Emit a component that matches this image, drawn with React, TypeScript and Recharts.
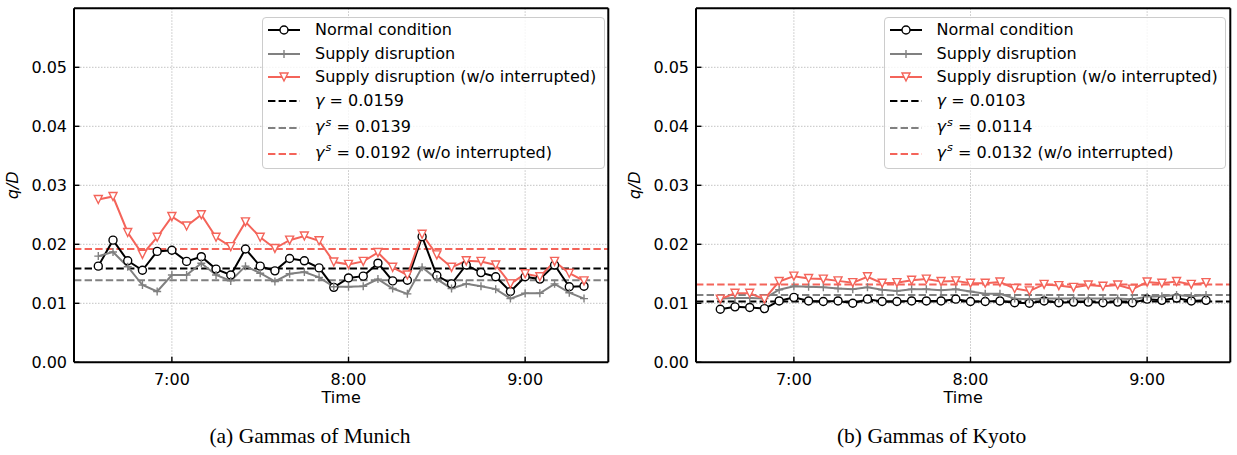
import { LineChart, Line, XAxis, YAxis, CartesianGrid, ReferenceLine } from 'recharts';

// sample times (5 min steps)
const times = [
  '6:35', '6:40', '6:45', '6:50', '6:55', '7:00', '7:05', '7:10', '7:15', '7:20', '7:25', '7:30',
  '7:35', '7:40', '7:45', '7:50', '7:55', '8:00', '8:05', '8:10', '8:15', '8:20', '8:25', '8:30',
  '8:35', '8:40', '8:45', '8:50', '8:55', '9:00', '9:05', '9:10', '9:15', '9:20',
];

const xTickLabels = ['7:00', '8:00', '9:00'];
const yTicks = [0, 0.01, 0.02, 0.03, 0.04, 0.05];

const munichNormal = [
  0.0163, 0.0207, 0.0172, 0.0156, 0.0188, 0.019, 0.0171, 0.0179, 0.0158, 0.0148, 0.0192, 0.0163,
  0.0155, 0.0176, 0.0172, 0.016, 0.0127, 0.0143, 0.0146, 0.0168, 0.0138, 0.0139, 0.0213, 0.0147,
  0.0133, 0.0165, 0.0152, 0.0145, 0.012, 0.0145, 0.0141, 0.0165, 0.0128, 0.0129,
];
const munichSupply = [
  0.018, 0.0187, 0.0162, 0.0131, 0.012, 0.0148, 0.0148, 0.0168, 0.0148, 0.0138, 0.0163, 0.0151,
  0.0137, 0.015, 0.0153, 0.0144, 0.0128, 0.0128, 0.0129, 0.0141, 0.0125, 0.0116, 0.0161, 0.0141,
  0.0125, 0.0133, 0.0129, 0.0124, 0.0108, 0.0117, 0.0117, 0.0133, 0.0118, 0.0108,
];
const munichSupplyNoInt = [
  0.0276, 0.0281, 0.022, 0.0183, 0.0212, 0.0247, 0.0231, 0.025, 0.0212, 0.0196, 0.0238, 0.0212,
  0.0193, 0.0207, 0.0214, 0.0206, 0.017, 0.0166, 0.0171, 0.0186, 0.0161, 0.0148, 0.0217, 0.0182,
  0.0161, 0.0172, 0.0171, 0.0165, 0.0133, 0.015, 0.0145, 0.0171, 0.0151, 0.0138,
];

const kyotoNormal = [
  0.009, 0.0094, 0.0093, 0.0091, 0.0104, 0.011, 0.0104, 0.0103, 0.0104, 0.01, 0.0107, 0.0103,
  0.0103, 0.0104, 0.0104, 0.0104, 0.0107, 0.0103, 0.0103, 0.0104, 0.0101, 0.01, 0.0104, 0.0101,
  0.0102, 0.0102, 0.0101, 0.0102, 0.0101, 0.0107, 0.0105, 0.0109, 0.0104, 0.0105,
];
const kyotoSupply = [
  0.0108, 0.0109, 0.0109, 0.0108, 0.0123, 0.0129, 0.0128, 0.0127, 0.0125, 0.0124, 0.0127, 0.0123,
  0.0121, 0.0124, 0.0124, 0.0122, 0.0124, 0.012, 0.0116, 0.0116, 0.0108, 0.0107, 0.0108, 0.0108,
  0.0108, 0.0108, 0.0108, 0.0108, 0.0107, 0.0111, 0.0112, 0.0114, 0.0112, 0.0114,
];
const kyotoSupplyNoInt = [
  0.0107, 0.0117, 0.0117, 0.0107, 0.0137, 0.0146, 0.0142, 0.0141, 0.0138, 0.0135, 0.0145, 0.0134,
  0.0135, 0.0139, 0.0141, 0.0137, 0.0138, 0.0134, 0.0134, 0.0136, 0.0125, 0.0121, 0.0132, 0.013,
  0.0127, 0.0131, 0.0129, 0.0131, 0.0124, 0.0136, 0.0134, 0.0137, 0.0132, 0.0135,
];

// mean lines
const munichGammas = [0.0159, 0.0139, 0.0192];
const kyotoGammas = [0.0103, 0.0114, 0.0132];

const legendLabels = ['Normal condition', 'Supply disruption', 'Supply disruption (w/o interrupted)'];
const captions = ['(a) Gammas of Munich', '(b) Gammas of Kyoto'];

const RED = '#f4645a';
const GRAY = '#808080';
const FONT = 'DejaVu Sans';
const DASH = '7.4 3.2';

const toMinutes = (s: string) => {
  const [h, m] = s.split(':').map(Number);
  return h * 60 + m;
};
const formatTime = (v: number) => `${Math.floor(v / 60)}:${String(Math.round(v % 60)).padStart(2, '0')}`;

const xTicks = xTickLabels.map(toMinutes);
const first = toMinutes(times[0]);
const last = toMinutes(times[times.length - 1]);
// matplotlib default 5% margins
const xDomain = [first - (last - first) * 0.05, last + (last - first) * 0.05];
const yDomain = [0, 0.06];

const buildData = (normal: number[], supply: number[], noInt: number[]) =>
  times.map((t, i) => ({ t: toMinutes(t), normal: normal[i], supply: supply[i], noInt: noInt[i] }));

// eslint-disable-next-line @typescript-eslint/no-explicit-any
const CircleDot = (props: any) => {
  const { cx, cy, index } = props;
  if (cx == null || cy == null) return <g key={`c${index}`} />;
  return <circle key={`c${index}`} cx={cx} cy={cy} r={4} fill="#fff" stroke="#000" strokeWidth={1.4} />;
};

// eslint-disable-next-line @typescript-eslint/no-explicit-any
const PlusDot = (props: any) => {
  const { cx, cy, index } = props;
  if (cx == null || cy == null) return <g key={`p${index}`} />;
  return (
    <path
      key={`p${index}`}
      d={`M${cx - 4},${cy}H${cx + 4}M${cx},${cy - 4}V${cy + 4}`}
      stroke={GRAY}
      strokeWidth={1.4}
      fill="none"
    />
  );
};

// eslint-disable-next-line @typescript-eslint/no-explicit-any
const TriangleDot = (props: any) => {
  const { cx, cy, index } = props;
  if (cx == null || cy == null) return <g key={`v${index}`} />;
  return (
    <path
      key={`v${index}`}
      d={`M${cx - 4},${cy - 4}L${cx + 4},${cy - 4}L${cx},${cy + 4}Z`}
      fill="#fff"
      stroke={RED}
      strokeWidth={1.4}
    />
  );
};

// eslint-disable-next-line @typescript-eslint/no-explicit-any
const renderYLabel = (props: any) => {
  const vb = props.viewBox || { x: 0, y: 0, width: 0, height: 0 };
  const cx = vb.x + 12.5;
  const cy = vb.y + vb.height / 2;
  return (
    <text
      x={cx}
      y={cy}
      transform={`rotate(-90 ${cx} ${cy})`}
      textAnchor="middle"
      dominantBaseline="central"
      fontFamily={FONT}
      fontSize={16}
      fontStyle="italic"
      fill="#000"
    >
      q/D
    </text>
  );
};

const Gamma = ({ sup }: { sup?: boolean }) => (
  <span>
    <span style={{ fontStyle: 'italic' }}>γ</span>
    {sup && (
      <span style={{ fontStyle: 'italic', fontSize: '0.7em', position: 'relative', top: '-0.55em', marginLeft: 1 }}>
        s
      </span>
    )}
  </span>
);

function LegendHandle({ kind }: { kind: string }) {
  const mid = 12;
  return (
    <svg width={32} height={24} style={{ flex: 'none', display: 'block' }}>
      {kind === 'normal' && (
        <>
          <line x1={0} x2={32} y1={mid} y2={mid} stroke="#000" strokeWidth={2} />
          <circle cx={16} cy={mid} r={4} fill="#fff" stroke="#000" strokeWidth={1.4} />
        </>
      )}
      {kind === 'supply' && (
        <>
          <line x1={0} x2={32} y1={mid} y2={mid} stroke={GRAY} strokeWidth={2} />
          <path d={`M12,${mid}H20M16,${mid - 4}V${mid + 4}`} stroke={GRAY} strokeWidth={1.4} />
        </>
      )}
      {kind === 'noInt' && (
        <>
          <line x1={0} x2={32} y1={mid} y2={mid} stroke={RED} strokeWidth={2} />
          <path d={`M12,${mid - 4}L20,${mid - 4}L16,${mid + 4}Z`} fill="#fff" stroke={RED} strokeWidth={1.4} />
        </>
      )}
      {kind === 'g' && <line x1={0} x2={32} y1={mid} y2={mid} stroke="#000" strokeWidth={2} strokeDasharray={DASH} />}
      {kind === 'gs' && <line x1={0} x2={32} y1={mid} y2={mid} stroke={GRAY} strokeWidth={2} strokeDasharray={DASH} />}
      {kind === 'gsn' && <line x1={0} x2={32} y1={mid} y2={mid} stroke={RED} strokeWidth={2} strokeDasharray={DASH} />}
    </svg>
  );
}

function PanelLegend({ gammas }: { gammas: number[] }) {
  const rows = [
    { kind: 'normal', h: 23.6, content: <span>{legendLabels[0]}</span> },
    { kind: 'supply', h: 23.6, content: <span>{legendLabels[1]}</span> },
    { kind: 'noInt', h: 23.6, content: <span>{legendLabels[2]}</span> },
    { kind: 'g', h: 23.6, content: <span><Gamma /> = {gammas[0].toFixed(4)}</span> },
    { kind: 'gs', h: 25.4, content: <span><Gamma sup /> = {gammas[1].toFixed(4)}</span> },
    { kind: 'gsn', h: 25.4, content: <span><Gamma sup /> = {gammas[2].toFixed(4)} (w/o interrupted)</span> },
  ];
  return (
    <div
      style={{
        position: 'absolute',
        left: 262.4,
        top: 17.4,
        width: 342.3,
        height: 151.4,
        boxSizing: 'border-box',
        border: '1px solid #cccccc',
        borderRadius: 4,
        background: 'rgba(255,255,255,0.8)',
        paddingTop: 0.1,
        paddingLeft: 5.1,
        fontFamily: FONT,
        fontSize: 16,
        color: '#000',
      }}
    >
      {rows.map((r) => (
        <div
          key={r.kind}
          style={{
            height: r.h,
            display: 'flex',
            alignItems: 'center',
            boxSizing: 'border-box',
            paddingTop: r.h > 24 ? 5.2 : 0,
            whiteSpace: 'nowrap',
          }}
        >
          <LegendHandle kind={r.kind} />
          <div style={{ marginLeft: 14.5, lineHeight: '18px' }}>{r.content}</div>
        </div>
      ))}
    </div>
  );
}

interface PanelProps {
  left: number;
  data: ReturnType<typeof buildData>;
  gammas: number[];
  caption: string;
}

function GammaPanel({ left, data, gammas, caption }: PanelProps) {
  const axisLine = { stroke: '#000', strokeWidth: 2 };
  const tickLine = { stroke: '#000', strokeWidth: 1.4 };
  const tickStyle = { fill: '#000', fontSize: 16, fontFamily: FONT };
  return (
    <div style={{ position: 'absolute', left, top: 0, width: 620, height: 455 }}>
      <LineChart width={620} height={420} data={data} margin={{ top: 7.3, right: 10.7, bottom: 17.7, left: 0 }}>
        <CartesianGrid stroke="#c4c4c4" strokeDasharray="1.5 1.5" />
        <XAxis
          dataKey="t"
          type="number"
          domain={xDomain}
          allowDataOverflow
          ticks={xTicks}
          tickFormatter={formatTime}
          height={40}
          axisLine={axisLine}
          tickLine={tickLine}
          tickSize={-5.5}
          tickMargin={16.6}
          tick={tickStyle}
          label={{ value: 'Time', position: 'insideBottom', offset: -1, fill: '#000', fontSize: 16, fontFamily: FONT }}
        />
        <XAxis
          xAxisId="top"
          orientation="top"
          type="number"
          domain={xDomain}
          allowDataOverflow
          ticks={xTicks}
          height={1}
          axisLine={axisLine}
          tickLine={tickLine}
          tickSize={-5.5}
          tick={false}
        />
        <YAxis
          type="number"
          domain={yDomain}
          allowDataOverflow
          ticks={yTicks}
          tickFormatter={(v: number) => v.toFixed(2)}
          width={74}
          axisLine={axisLine}
          tickLine={tickLine}
          tickSize={-5.5}
          tickMargin={12.5}
          tick={tickStyle}
          label={renderYLabel}
        />
        <YAxis
          yAxisId="right"
          orientation="right"
          type="number"
          domain={yDomain}
          allowDataOverflow
          ticks={yTicks}
          width={1}
          axisLine={axisLine}
          tickLine={tickLine}
          tickSize={-5.5}
          tick={false}
        />
        <ReferenceLine y={gammas[0]} stroke="#000" strokeWidth={2} strokeDasharray={DASH} />
        <ReferenceLine y={gammas[1]} stroke={GRAY} strokeWidth={2} strokeDasharray={DASH} />
        <ReferenceLine y={gammas[2]} stroke={RED} strokeWidth={2} strokeDasharray={DASH} />
        <Line
          type="linear"
          dataKey="normal"
          stroke="#000"
          strokeWidth={2}
          dot={CircleDot}
          activeDot={false}
          isAnimationActive={false}
        />
        <Line
          type="linear"
          dataKey="supply"
          stroke={GRAY}
          strokeWidth={2}
          dot={PlusDot}
          activeDot={false}
          isAnimationActive={false}
        />
        <Line
          type="linear"
          dataKey="noInt"
          stroke={RED}
          strokeWidth={2}
          dot={TriangleDot}
          activeDot={false}
          isAnimationActive={false}
        />
      </LineChart>
      <PanelLegend gammas={gammas} />
      <div
        style={{
          position: 'absolute',
          left: 0,
          top: 423,
          width: 620,
          textAlign: 'center',
          fontFamily: '"Liberation Serif", serif',
          fontSize: 21.5,
          lineHeight: '26px',
          color: '#000',
        }}
      >
        {caption}
      </div>
    </div>
  );
}

export default function App() {
  return (
    <div style={{ position: 'absolute', left: 0, top: 0, width: 1237, height: 455, background: '#fff', overflow: 'hidden' }}>
      <GammaPanel
        left={0}
        data={buildData(munichNormal, munichSupply, munichSupplyNoInt)}
        gammas={munichGammas}
        caption={captions[0]}
      />
      <GammaPanel
        left={621.6}
        data={buildData(kyotoNormal, kyotoSupply, kyotoSupplyNoInt)}
        gammas={kyotoGammas}
        caption={captions[1]}
      />
    </div>
  );
}
